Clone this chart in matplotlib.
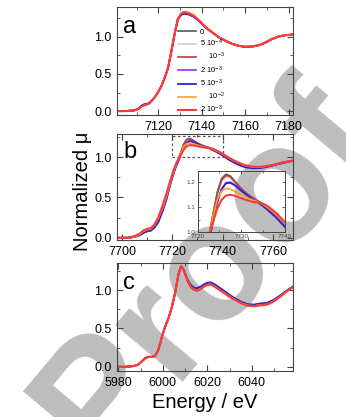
import matplotlib
matplotlib.use('Agg')
import matplotlib.pyplot as plt
from matplotlib.ticker import MultipleLocator
from matplotlib.patches import Rectangle

plt.rcParams['font.family'] = ['Liberation Sans', 'DejaVu Sans']
plt.rcParams['mathtext.default'] = 'regular'

# ---------------- data ----------------
labels = ['0', '5 10$^{-4}$', '    10$^{-3}$', '2 10$^{-3}$', '5 10$^{-3}$',
          '    10$^{-2}$', '2 10$^{-3}$']
colors = ['#555555', '#cfcfcf', '#b83c3c', '#a03cf0', '#2626c8', '#ffa020', '#ff3838']

# panel a (Fe K-edge)
energy_a = [7101, 7105, 7109, 7111, 7112.5, 7114, 7115.5, 7117, 7118.5, 7120, 7121.5, 7123,
            7124.5, 7126, 7127.5, 7129, 7130.5, 7132, 7134, 7136.5, 7139, 7142, 7145, 7148,
            7151, 7154, 7157, 7160, 7163, 7166, 7169, 7172, 7175, 7178, 7182]
mu_a_0 = [0.0, 0.0, 0.01, 0.03, 0.065, 0.085, 0.095, 0.14, 0.19, 0.26, 0.34, 0.45, 0.58, 0.80,
          1.04, 1.24, 1.31, 1.33, 1.315, 1.275, 1.21, 1.12, 1.055, 0.99, 0.945, 0.905, 0.878,
          0.865, 0.868, 0.885, 0.918, 0.965, 1.0, 1.02, 1.03]
mu_a_1 = [0.0, 0.0, 0.01, 0.03, 0.065, 0.085, 0.095, 0.14, 0.19, 0.26, 0.34, 0.45, 0.58, 0.80,
          1.04, 1.24, 1.305, 1.325, 1.312, 1.273, 1.21, 1.12, 1.055, 0.99, 0.945, 0.905, 0.878,
          0.865, 0.868, 0.885, 0.918, 0.965, 1.0, 1.02, 1.03]
mu_a_2 = [0.0, 0.0, 0.01, 0.03, 0.066, 0.086, 0.096, 0.14, 0.19, 0.26, 0.34, 0.45, 0.58, 0.80,
          1.04, 1.24, 1.31, 1.328, 1.314, 1.275, 1.21, 1.12, 1.055, 0.99, 0.945, 0.905, 0.878,
          0.866, 0.869, 0.886, 0.918, 0.965, 1.0, 1.02, 1.03]
mu_a_3 = [0.0, 0.0, 0.01, 0.035, 0.075, 0.095, 0.10, 0.14, 0.19, 0.26, 0.34, 0.45, 0.58, 0.80,
          1.03, 1.23, 1.30, 1.318, 1.308, 1.27, 1.208, 1.12, 1.055, 0.99, 0.945, 0.905, 0.878,
          0.864, 0.867, 0.884, 0.917, 0.964, 1.0, 1.02, 1.03]
mu_a_4 = [0.0, 0.0, 0.01, 0.035, 0.078, 0.097, 0.102, 0.14, 0.19, 0.26, 0.34, 0.45, 0.58, 0.80,
          1.03, 1.23, 1.295, 1.31, 1.30, 1.265, 1.205, 1.12, 1.055, 0.99, 0.945, 0.905, 0.878,
          0.863, 0.866, 0.884, 0.917, 0.964, 1.0, 1.02, 1.03]
mu_a_5 = [0.0, 0.0, 0.01, 0.03, 0.065, 0.085, 0.095, 0.14, 0.19, 0.26, 0.34, 0.45, 0.58, 0.80,
          1.04, 1.245, 1.318, 1.34, 1.33, 1.29, 1.22, 1.125, 1.058, 0.993, 0.948, 0.907, 0.88,
          0.867, 0.87, 0.887, 0.92, 0.967, 1.003, 1.022, 1.032]
mu_a_6 = [0.0, 0.0, 0.01, 0.03, 0.066, 0.085, 0.095, 0.14, 0.19, 0.26, 0.34, 0.45, 0.58, 0.80,
          1.04, 1.24, 1.31, 1.33, 1.316, 1.277, 1.212, 1.122, 1.056, 0.991, 0.946, 0.906, 0.879,
          0.866, 0.869, 0.886, 0.919, 0.966, 1.001, 1.021, 1.031]

# panel b (Co K-edge)
energy_b = [7698, 7702, 7705, 7707, 7708.5, 7710, 7711.5, 7713, 7714.5, 7716, 7717.5, 7719,
            7720.5, 7721.5, 7722.5, 7723.5, 7724.5, 7725.5, 7726.5, 7727.5, 7728.5, 7730,
            7731.5, 7733, 7734.5, 7736, 7738, 7740, 7743, 7746, 7749, 7752, 7755, 7758, 7761,
            7764, 7768]
mu_b_0 = [0.00, 0.00, 0.01, 0.04, 0.08, 0.10, 0.11, 0.15, 0.22, 0.34, 0.47, 0.65, 0.82, 0.91,
          0.98, 1.07, 1.16, 1.215, 1.232, 1.225, 1.205, 1.175, 1.152, 1.135, 1.118, 1.098,
          1.068, 1.032, 0.975, 0.925, 0.89, 0.872, 0.872, 0.887, 0.91, 0.935, 0.96]
mu_b_1 = [0.00, 0.00, 0.01, 0.04, 0.08, 0.10, 0.11, 0.15, 0.22, 0.34, 0.47, 0.65, 0.82, 0.91,
          0.98, 1.065, 1.15, 1.205, 1.222, 1.217, 1.20, 1.172, 1.15, 1.134, 1.118, 1.098,
          1.068, 1.032, 0.975, 0.925, 0.89, 0.872, 0.873, 0.888, 0.91, 0.935, 0.96]
mu_b_2 = [0.00, 0.00, 0.01, 0.04, 0.08, 0.10, 0.11, 0.15, 0.22, 0.34, 0.47, 0.65, 0.82, 0.91,
          0.98, 1.068, 1.155, 1.21, 1.228, 1.222, 1.203, 1.174, 1.151, 1.134, 1.118, 1.099,
          1.07, 1.035, 0.978, 0.928, 0.892, 0.874, 0.874, 0.888, 0.91, 0.935, 0.96]
mu_b_3 = [0.00, 0.00, 0.01, 0.03, 0.06, 0.08, 0.09, 0.13, 0.20, 0.32, 0.46, 0.64, 0.80, 0.89,
          0.96, 1.04, 1.12, 1.172, 1.198, 1.20, 1.19, 1.168, 1.148, 1.13, 1.113, 1.092, 1.06,
          1.022, 0.96, 0.91, 0.875, 0.862, 0.865, 0.882, 0.905, 0.93, 0.955]
mu_b_4 = [0.00, 0.00, 0.01, 0.03, 0.06, 0.08, 0.09, 0.13, 0.20, 0.32, 0.46, 0.64, 0.80, 0.89,
          0.96, 1.042, 1.122, 1.172, 1.196, 1.198, 1.188, 1.166, 1.146, 1.128, 1.112, 1.091,
          1.06, 1.023, 0.962, 0.912, 0.877, 0.864, 0.866, 0.883, 0.906, 0.93, 0.955]
mu_b_5 = [0.00, 0.00, 0.01, 0.04, 0.08, 0.10, 0.11, 0.16, 0.24, 0.36, 0.49, 0.66, 0.82, 0.91,
          0.98, 1.06, 1.13, 1.165, 1.176, 1.172, 1.164, 1.15, 1.138, 1.127, 1.117, 1.10, 1.072,
          1.038, 0.98, 0.932, 0.896, 0.878, 0.877, 0.89, 0.912, 0.936, 0.96]
mu_b_6 = [0.00, 0.00, 0.02, 0.05, 0.09, 0.11, 0.12, 0.17, 0.26, 0.39, 0.53, 0.69, 0.84, 0.92,
          0.98, 1.04, 1.095, 1.13, 1.147, 1.15, 1.146, 1.136, 1.127, 1.12, 1.118, 1.106, 1.078,
          1.042, 0.985, 0.937, 0.90, 0.882, 0.88, 0.892, 0.913, 0.937, 0.96]

# panel c (Cr K-edge)
energy_c = [5979, 5983, 5987, 5989, 5990.5, 5992, 5993.5, 5995, 5996.5, 5998, 5999.5, 6001,
            6002.5, 6004, 6005.5, 6007, 6008.2, 6009.5, 6011, 6012.5, 6014, 6015.5, 6017,
            6018.5, 6020, 6021.5, 6023, 6025, 6027.5, 6030, 6032.5, 6035, 6038, 6041, 6044,
            6047, 6050, 6053, 6056, 6059]
mu_c_0 = [0.0, 0.0, 0.01, 0.03, 0.07, 0.11, 0.13, 0.13, 0.14, 0.22, 0.38, 0.52, 0.63, 0.77,
          0.96, 1.20, 1.31, 1.255, 1.13, 1.055, 1.015, 1.005, 1.025, 1.058, 1.078, 1.082,
          1.063, 1.022, 0.972, 0.92, 0.878, 0.84, 0.804, 0.80, 0.812, 0.822, 0.865, 0.927,
          0.995, 1.052]
mu_c_1 = [0.0, 0.0, 0.01, 0.03, 0.07, 0.11, 0.13, 0.13, 0.14, 0.22, 0.38, 0.52, 0.63, 0.77,
          0.96, 1.20, 1.31, 1.255, 1.13, 1.056, 1.016, 1.006, 1.026, 1.06, 1.08, 1.084, 1.065,
          1.024, 0.974, 0.922, 0.88, 0.842, 0.806, 0.802, 0.814, 0.824, 0.866, 0.928, 0.996,
          1.052]
mu_c_2 = [0.0, 0.0, 0.01, 0.03, 0.07, 0.11, 0.13, 0.13, 0.14, 0.22, 0.38, 0.52, 0.63, 0.77,
          0.96, 1.20, 1.31, 1.255, 1.128, 1.052, 1.012, 1.002, 1.022, 1.055, 1.075, 1.08,
          1.06, 1.02, 0.97, 0.918, 0.876, 0.838, 0.802, 0.798, 0.81, 0.82, 0.863, 0.926,
          0.994, 1.051]
mu_c_3 = [0.0, 0.0, 0.01, 0.03, 0.07, 0.11, 0.13, 0.13, 0.14, 0.22, 0.38, 0.52, 0.63, 0.77,
          0.96, 1.20, 1.31, 1.258, 1.138, 1.065, 1.025, 1.018, 1.038, 1.07, 1.09, 1.094, 1.074,
          1.034, 0.984, 0.93, 0.886, 0.847, 0.812, 0.807, 0.82, 0.83, 0.871, 0.932, 0.998,
          1.054]
mu_c_4 = [0.0, 0.0, 0.01, 0.03, 0.07, 0.11, 0.13, 0.13, 0.14, 0.22, 0.38, 0.52, 0.63, 0.77,
          0.96, 1.20, 1.31, 1.26, 1.14, 1.07, 1.03, 1.025, 1.045, 1.075, 1.095, 1.10, 1.08,
          1.04, 0.99, 0.935, 0.89, 0.85, 0.815, 0.81, 0.825, 0.835, 0.875, 0.935, 1.0, 1.055]
mu_c_5 = [0.0, 0.0, 0.01, 0.03, 0.07, 0.11, 0.13, 0.13, 0.14, 0.22, 0.38, 0.52, 0.63, 0.77,
          0.96, 1.20, 1.31, 1.252, 1.125, 1.048, 1.007, 0.997, 1.017, 1.05, 1.07, 1.075, 1.055,
          1.015, 0.965, 0.914, 0.873, 0.834, 0.799, 0.794, 0.805, 0.815, 0.859, 0.923, 0.992,
          1.051]
mu_c_6 = [0.0, 0.0, 0.01, 0.03, 0.07, 0.11, 0.13, 0.13, 0.14, 0.22, 0.38, 0.52, 0.63, 0.77,
          0.96, 1.20, 1.31, 1.25, 1.12, 1.04, 1.0, 0.99, 1.01, 1.045, 1.065, 1.07, 1.05, 1.01,
          0.96, 0.91, 0.87, 0.83, 0.795, 0.79, 0.80, 0.81, 0.855, 0.92, 0.99, 1.05]

series_a = [mu_a_0, mu_a_1, mu_a_2, mu_a_3, mu_a_4, mu_a_5, mu_a_6]
series_b = [mu_b_0, mu_b_1, mu_b_2, mu_b_3, mu_b_4, mu_b_5, mu_b_6]
series_c = [mu_c_0, mu_c_1, mu_c_2, mu_c_3, mu_c_4, mu_c_5, mu_c_6]
widths = [1.2, 1.2, 1.2, 1.3, 1.3, 1.2, 1.5]

# ---------------- figure ----------------
fig = plt.figure(figsize=(3.46, 4.17), dpi=100)
fig.text(0.603, 0.348, 'Proof', rotation=50, fontsize=120, fontweight='bold',
         color='#bdbdbd', ha='center', va='center', zorder=-1, rotation_mode='anchor')

SP = '#444444'


def style(ax, xmaj, ylim):
    ax.set_facecolor('none')
    ax.xaxis.set_major_locator(MultipleLocator(xmaj))
    ax.xaxis.set_minor_locator(MultipleLocator(xmaj / 2))
    ax.yaxis.set_major_locator(MultipleLocator(0.5))
    ax.yaxis.set_minor_locator(MultipleLocator(0.25))
    ax.set_ylim(*ylim)
    ax.tick_params(which='both', direction='in', top=True, right=True,
                   labelsize=9, color=SP, pad=4)
    ax.tick_params(which='major', length=4, width=0.8)
    ax.tick_params(which='minor', length=2.5, width=0.6)
    for s in ax.spines.values():
        s.set_linewidth(0.8)
        s.set_color(SP)


ax_a = fig.add_axes([0.338, 0.724, 0.509, 0.259])
for y, c, lw, lab in zip(series_a, colors, widths, labels):
    ax_a.plot(energy_a, y, color=c, lw=lw, label=lab)
ax_a.set_xlim(7101, 7182)
style(ax_a, 20, (-0.054, 1.40))
ax_a.text(0.035, 0.82, 'a', transform=ax_a.transAxes, fontsize=17, ha='left', va='center')
ax_a.legend(loc='upper left', bbox_to_anchor=(0.345, 0.80), frameon=False, fontsize=5.5,
            handlelength=2.4, handletextpad=0.5, labelspacing=0.25, borderpad=0,
            borderaxespad=0)

ax_b = fig.add_axes([0.338, 0.424, 0.509, 0.255])
for y, c, lw in zip(series_b, colors, widths):
    ax_b.plot(energy_b, y, color=c, lw=lw)
ax_b.set_xlim(7698, 7768)
style(ax_b, 20, (-0.03, 1.29))
ax_b.text(0.035, 0.825, 'b', transform=ax_b.transAxes, fontsize=17, ha='left', va='center')
ax_b.add_patch(Rectangle((7720, 1.0), 20, 0.26, fill=False, ls=(0, (2, 2)), lw=0.9,
                         ec='#555555'))

ax_in = fig.add_axes([0.5714, 0.4429, 0.2514, 0.147])
ax_in.set_facecolor('none')
for y, c, lw in zip(series_b, colors, widths):
    ax_in.plot(energy_b, y, color=c, lw=lw)
ax_in.set_xlim(7720, 7740)
ax_in.set_ylim(1.0, 1.245)
ax_in.xaxis.set_major_locator(MultipleLocator(10))
ax_in.xaxis.set_minor_locator(MultipleLocator(5))
ax_in.yaxis.set_major_locator(MultipleLocator(0.1))
ax_in.yaxis.set_minor_locator(MultipleLocator(0.05))
ax_in.tick_params(which='both', direction='in', top=True, right=True, labelsize=4.5,
                  labelcolor='#444444', color=SP, pad=1.5)
ax_in.tick_params(which='major', length=2.5, width=0.6)
ax_in.tick_params(which='minor', length=1.5, width=0.5)
for s in ax_in.spines.values():
    s.set_linewidth(0.7)
    s.set_color(SP)

ax_c = fig.add_axes([0.338, 0.110, 0.509, 0.259])
for y, c, lw in zip(series_c, colors, widths):
    ax_c.plot(energy_c, y, color=c, lw=lw)
ax_c.set_xlim(5979.4, 6058.5)
style(ax_c, 20, (-0.056, 1.35))
ax_c.text(0.035, 0.815, 'c', transform=ax_c.transAxes, fontsize=17, ha='left', va='center')

fig.text(0.237, 0.542, 'Normalized μ', rotation=90, fontsize=14.5, ha='center', va='center')
fig.text(0.592, 0.034, 'Energy / eV', fontsize=14.5, ha='center', va='center')

fig.savefig('out.png', dpi=100)
